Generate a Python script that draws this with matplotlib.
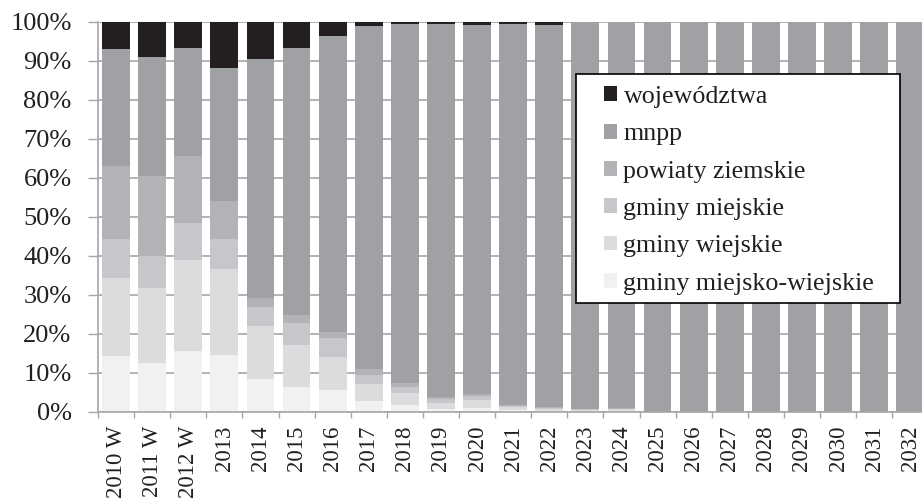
import matplotlib
matplotlib.use('Agg')
import matplotlib.pyplot as plt
import matplotlib.ticker as ticker
from matplotlib.patches import Rectangle
import numpy as np

plt.rcParams['font.family'] = ['Liberation Serif', 'DejaVu Serif']

# Lata (kategorie osi X)
lata = ['2010 W', '2011 W', '2012 W', '2013', '2014', '2015', '2016', '2017',
        '2018', '2019', '2020', '2021', '2022', '2023', '2024', '2025', '2026',
        '2027', '2028', '2029', '2030', '2031', '2032']

# Udział poszczególnych grup [%]
gminy_miejsko_wiejskie = [14.3, 12.5, 15.7, 14.6, 8.4, 6.3, 5.6, 2.8, 1.7, 0.6, 1.0, 0.5,
                          0.3, 0.2, 0.2, 0, 0, 0, 0, 0, 0, 0, 0]
gminy_wiejskie = [20.1, 19.3, 23.3, 21.9, 13.6, 10.8, 8.4, 4.3, 3.2, 1.6, 2.0, 0.6,
                  0.4, 0.3, 0.4, 0, 0, 0, 0, 0, 0, 0, 0]
gminy_miejskie = [9.9, 8.2, 9.5, 7.9, 4.9, 5.7, 5.0, 2.3, 1.5, 1.1, 1.0, 0.4,
                  0.3, 0.2, 0.2, 0, 0, 0, 0, 0, 0, 0, 0]
powiaty_ziemskie = [18.7, 20.5, 17.2, 9.7, 2.4, 2.0, 1.5, 1.6, 1.0, 0.4, 0.5, 0.2,
                    0.1, 0.0, 0.1, 0, 0, 0, 0, 0, 0, 0, 0]
mnpp = [30.0, 30.6, 27.6, 34.0, 61.1, 68.6, 75.9, 88.0, 92.1, 95.8, 94.8, 97.7,
        98.1, 99.3, 99.1, 100, 100, 100, 100, 100, 100, 100, 100]
wojewodztwa = [7.0, 8.9, 6.7, 11.9, 9.6, 6.6, 3.6, 1.0, 0.5, 0.5, 0.7, 0.6,
               0.8, 0, 0, 0, 0, 0, 0, 0, 0, 0, 0]

serie = [
    ('gminy miejsko-wiejskie', gminy_miejsko_wiejskie, '#f0f1f2'),
    ('gminy wiejskie', gminy_wiejskie, '#dbdcde'),
    ('gminy miejskie', gminy_miejskie, '#c6c7ca'),
    ('powiaty ziemskie', powiaty_ziemskie, '#b2b3b7'),
    ('mnpp', mnpp, '#a0a1a5'),
    ('województwa', wojewodztwa, '#231f20'),
]

kolor_tekstu = '#231f20'
kolor_siatki = '#a6a6a6'

fig = plt.figure(figsize=(9.22, 5), dpi=100)
ax = fig.add_axes([98 / 922, 88.3 / 500, 830.3 / 922, 389.7 / 500])

x = np.arange(len(lata))
dol = np.zeros(len(lata))
uchwyty = []
for nazwa, wartosci, kolor in serie:
    wartosci = np.array(wartosci, dtype=float)
    b = ax.bar(x, wartosci, 0.77, bottom=dol, color=kolor, label=nazwa,
               linewidth=0, zorder=2)
    uchwyty.append(b)
    dol += wartosci

ax.set_xlim(-0.5, len(lata) - 0.5)
ax.set_ylim(0, 100)

# Oś Y
ax.set_yticks(np.arange(0, 101, 10))
ax.yaxis.set_major_formatter(ticker.PercentFormatter(decimals=0))
ax.tick_params(axis='y', length=7.5, width=1, color=kolor_siatki, pad=11.5,
               labelsize=19, labelcolor=kolor_tekstu)
ax.grid(axis='y', color=kolor_siatki, linewidth=1.2, zorder=0)
ax.set_axisbelow(True)

# Oś X: etykiety w środku kategorii, kreski na granicach
ax.set_xticks(x)
ax.set_xticklabels(lata, rotation=90, va='top', ha='center')
ax.tick_params(axis='x', which='major', length=0, pad=10,
               labelsize=16.5, labelcolor=kolor_tekstu)
ax.set_xticks(np.arange(-0.5, len(lata), 1), minor=True)
ax.tick_params(axis='x', which='minor', length=4, width=1, color=kolor_siatki)

for s in ['top', 'right']:
    ax.spines[s].set_visible(False)
for s in ['left', 'bottom']:
    ax.spines[s].set_color(kolor_siatki)
    ax.spines[s].set_linewidth(1.2)

# Legenda w ramce
fig.add_artist(Rectangle((576 / 922, 1 - 303 / 500), 324 / 922, 229 / 500,
                         transform=fig.transFigure, facecolor='white',
                         edgecolor='black', linewidth=1.2, zorder=4))
fig.legend(uchwyty[::-1], [s[0] for s in serie[::-1]],
           loc='upper left', bbox_to_anchor=(604 / 922, 1 - 86 / 500),
           bbox_transform=fig.transFigure, frameon=False, borderpad=0,
           borderaxespad=0, fontsize=18.7, handlelength=0.5, handleheight=0.5,
           handletextpad=0.25, labelspacing=0.59, labelcolor=kolor_tekstu)

fig.savefig('out.png', dpi=100)
